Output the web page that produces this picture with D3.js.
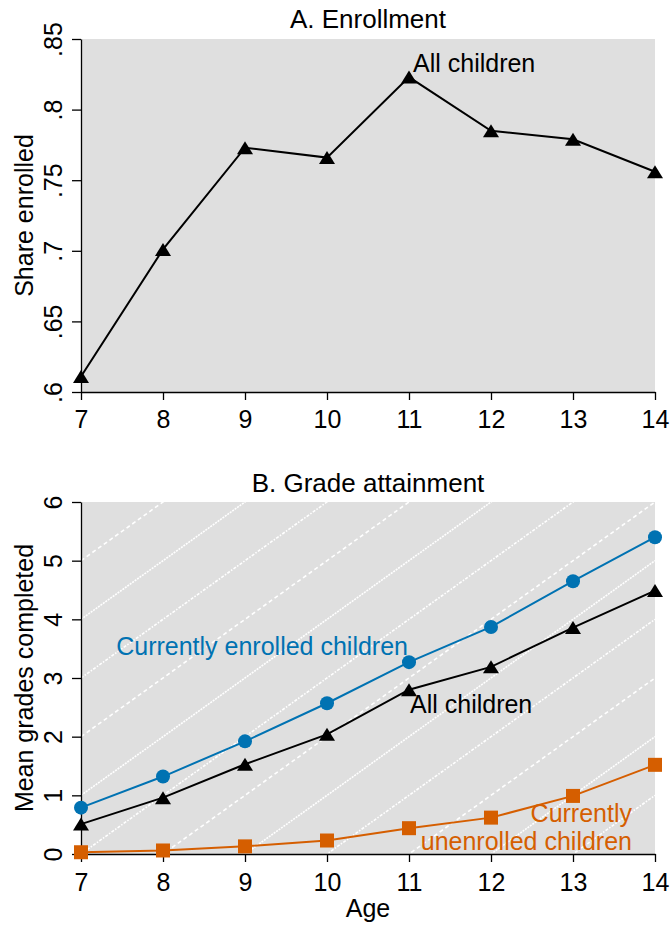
<!DOCTYPE html>
<html>
<head>
<meta charset="utf-8">
<script src="https://cdn.jsdelivr.net/npm/d3@7"></script>
<style>
  html, body { margin: 0; padding: 0; background: #fff; }
  svg { display: block; font-family: "Liberation Sans", Arial, Helvetica, sans-serif; }
</style>
</head>
<body>
<svg id="chart" width="671" height="926"></svg>
<script>
// Ages shown on both panels
const ages = [7, 8, 9, 10, 11, 12, 13, 14];

// Panel A: share of children enrolled in school, by age
const shareEnrolled = [0.611, 0.701, 0.773, 0.766, 0.823, 0.785, 0.779, 0.756];

// Panel B: mean grades completed, by age
const gradesEnrolled   = [0.79, 1.32, 1.92, 2.57, 3.27, 3.87, 4.65, 5.40];
const gradesAll        = [0.51, 0.96, 1.53, 2.04, 2.80, 3.19, 3.86, 4.49];
const gradesUnenrolled = [0.03, 0.06, 0.13, 0.23, 0.44, 0.62, 0.99, 1.52];

// Tick values and labels
const shareTicks = [0.6, 0.65, 0.7, 0.75, 0.8, 0.85];
const shareTickLabels = [".6", ".65", ".7", ".75", ".8", ".85"];
const gradeTicks = [0, 1, 2, 3, 4, 5, 6];

// Reference lines: grade = age - offset (one grade per year of age)
const cohortOffsets = [2, 3, 4, 5, 6, 7, 8, 9, 10, 11, 12, 13];

const BLUE = "#0072B2";
const ORANGE = "#D55E00";
const BG = "#dfdfdf";
const FS = 25;

const svg = d3.select("#chart");

const xA = d3.scaleLinear().domain([7, 14]).range([81, 655]);
const yA = d3.scaleLinear().domain([0.6, 0.85]).range([392, 39]);
const xB = d3.scaleLinear().domain([7, 14]).range([81, 655]);
const yB = d3.scaleLinear().domain([0, 6]).range([854, 502]);

function triangle(s, h) {
  return `M0,${-h / 2}L${s / 2},${h / 2}L${-s / 2},${h / 2}Z`;
}

function drawAxes(g, x, y, yTicks, yLabels, labelTop) {
  const ax = g.append("g")
    .attr("transform", `translate(0,${y.range()[0]})`)
    .call(d3.axisBottom(x).tickValues(ages).tickFormat(d3.format("d"))
      .tickSize(8).tickSizeOuter(0));
  ax.select(".domain").attr("stroke", "#000").attr("stroke-width", 1.3);
  ax.selectAll(".tick line").attr("stroke", "#000").attr("stroke-width", 1.3);
  ax.selectAll(".tick text")
    .attr("y", labelTop).attr("dy", "0.71em")
    .attr("font-size", FS).attr("fill", "#000")
    .attr("font-family", "Liberation Sans, Arial, sans-serif");

  const ay = g.append("g")
    .attr("transform", `translate(${x.range()[0]},0)`)
    .call(d3.axisLeft(y).tickValues(yTicks)
      .tickFormat((d, i) => yLabels[i]).tickSize(9).tickSizeOuter(0));
  ay.select(".domain").attr("stroke", "#000").attr("stroke-width", 1.3);
  ay.selectAll(".tick line").attr("stroke", "#000").attr("stroke-width", 1.3);
  ay.selectAll(".tick text")
    .attr("x", null).attr("dy", null)
    .attr("transform", "translate(-19,0) rotate(-90)")
    .attr("text-anchor", "middle")
    .attr("font-size", FS).attr("fill", "#000")
    .attr("font-family", "Liberation Sans, Arial, sans-serif");
}

// ---------- Panel A: Enrollment ----------
const gA = svg.append("g");
gA.append("rect")
  .attr("x", xA(7)).attr("y", yA(0.85))
  .attr("width", xA(14) - xA(7)).attr("height", yA(0.6) - yA(0.85))
  .attr("fill", BG);

gA.append("text")
  .attr("x", (xA(7) + xA(14)) / 2).attr("y", 28)
  .attr("text-anchor", "middle").attr("font-size", 26)
  .text("A. Enrollment");

gA.append("text")
  .attr("transform", `translate(33,${(yA(0.6) + yA(0.85)) / 2}) rotate(-90)`)
  .attr("text-anchor", "middle").attr("font-size", FS)
  .text("Share enrolled");

drawAxes(gA, xA, yA, shareTicks, shareTickLabels, 18);

const lineA = d3.line().x((d, i) => xA(ages[i])).y(d => yA(d));
gA.append("path").datum(shareEnrolled)
  .attr("d", lineA).attr("fill", "none")
  .attr("stroke", "#000").attr("stroke-width", 2);
gA.selectAll(".mA").data(shareEnrolled).join("path")
  .attr("transform", (d, i) => `translate(${xA(ages[i])},${yA(d)})`)
  .attr("d", triangle(16, 13)).attr("fill", "#000");

gA.append("text")
  .attr("x", xA(11) + 4).attr("y", yA(shareEnrolled[4]) - 5)
  .attr("font-size", FS).attr("fill", "#000")
  .text("All children");

// ---------- Panel B: Grade attainment ----------
const gB = svg.append("g");
gB.append("rect")
  .attr("x", xB(7)).attr("y", yB(6))
  .attr("width", xB(14) - xB(7)).attr("height", yB(0) - yB(6))
  .attr("fill", BG);

svg.append("clipPath").attr("id", "clipB")
  .append("rect")
  .attr("x", xB(7) + 1).attr("y", yB(6))
  .attr("width", xB(14) - xB(7) - 1).attr("height", yB(0) - yB(6) - 1);

const diag = gB.append("g").attr("clip-path", "url(#clipB)");
diag.selectAll("line").data(cohortOffsets).join("line")
  .attr("x1", k => xB(7)).attr("y1", k => yB(7 - k))
  .attr("x2", k => xB(14)).attr("y2", k => yB(14 - k))
  .attr("stroke", "#fff").attr("stroke-width", 1.6)
  .attr("stroke-dasharray", (k, i) => (i % 3 === 0 ? "4,3" : i % 3 === 1 ? "2,1" : "3,1.5,1.5,1.5"));

gB.append("text")
  .attr("x", (xB(7) + xB(14)) / 2).attr("y", 492)
  .attr("text-anchor", "middle").attr("font-size", 26)
  .text("B. Grade attainment");

gB.append("text")
  .attr("transform", `translate(33,${(yB(0) + yB(6)) / 2}) rotate(-90)`)
  .attr("text-anchor", "middle").attr("font-size", FS)
  .text("Mean grades completed");

gB.append("text")
  .attr("x", (xB(7) + xB(14)) / 2).attr("y", 917)
  .attr("text-anchor", "middle").attr("font-size", FS)
  .text("Age");

drawAxes(gB, xB, yB, gradeTicks, gradeTicks.map(String), 19);

const lineB = d3.line().x((d, i) => xB(ages[i])).y(d => yB(d));

// Currently unenrolled children
gB.append("path").datum(gradesUnenrolled)
  .attr("d", lineB).attr("fill", "none")
  .attr("stroke", ORANGE).attr("stroke-width", 2);
gB.selectAll(".mU").data(gradesUnenrolled).join("rect")
  .attr("x", (d, i) => xB(ages[i]) - 7).attr("y", d => yB(d) - 7)
  .attr("width", 14).attr("height", 14).attr("fill", ORANGE);

// Currently enrolled children
gB.append("path").datum(gradesEnrolled)
  .attr("d", lineB).attr("fill", "none")
  .attr("stroke", BLUE).attr("stroke-width", 2);
gB.selectAll(".mE").data(gradesEnrolled).join("circle")
  .attr("cx", (d, i) => xB(ages[i])).attr("cy", d => yB(d))
  .attr("r", 7).attr("fill", BLUE);

// All children
gB.append("path").datum(gradesAll)
  .attr("d", lineB).attr("fill", "none")
  .attr("stroke", "#000").attr("stroke-width", 2);
gB.selectAll(".mAll").data(gradesAll).join("path")
  .attr("transform", (d, i) => `translate(${xB(ages[i])},${yB(d)})`)
  .attr("d", triangle(16, 13)).attr("fill", "#000");

// Series labels
gB.append("text")
  .attr("x", xB(11) - 1).attr("y", yB(gradesEnrolled[4]) - 7)
  .attr("text-anchor", "end").attr("font-size", FS).attr("fill", BLUE)
  .text("Currently enrolled children");

gB.append("text")
  .attr("x", xB(11) + 1).attr("y", yB(gradesAll[4]) + 23)
  .attr("font-size", FS).attr("fill", "#000")
  .text("All children");

gB.append("text")
  .attr("x", xB(14) - 23).attr("y", yB(0) - 32)
  .attr("text-anchor", "end").attr("font-size", FS).attr("fill", ORANGE)
  .text("Currently");
gB.append("text")
  .attr("x", xB(14) - 23).attr("y", yB(0) - 4)
  .attr("text-anchor", "end").attr("font-size", FS).attr("fill", ORANGE)
  .text("unenrolled children");
</script>
</body>
</html>
